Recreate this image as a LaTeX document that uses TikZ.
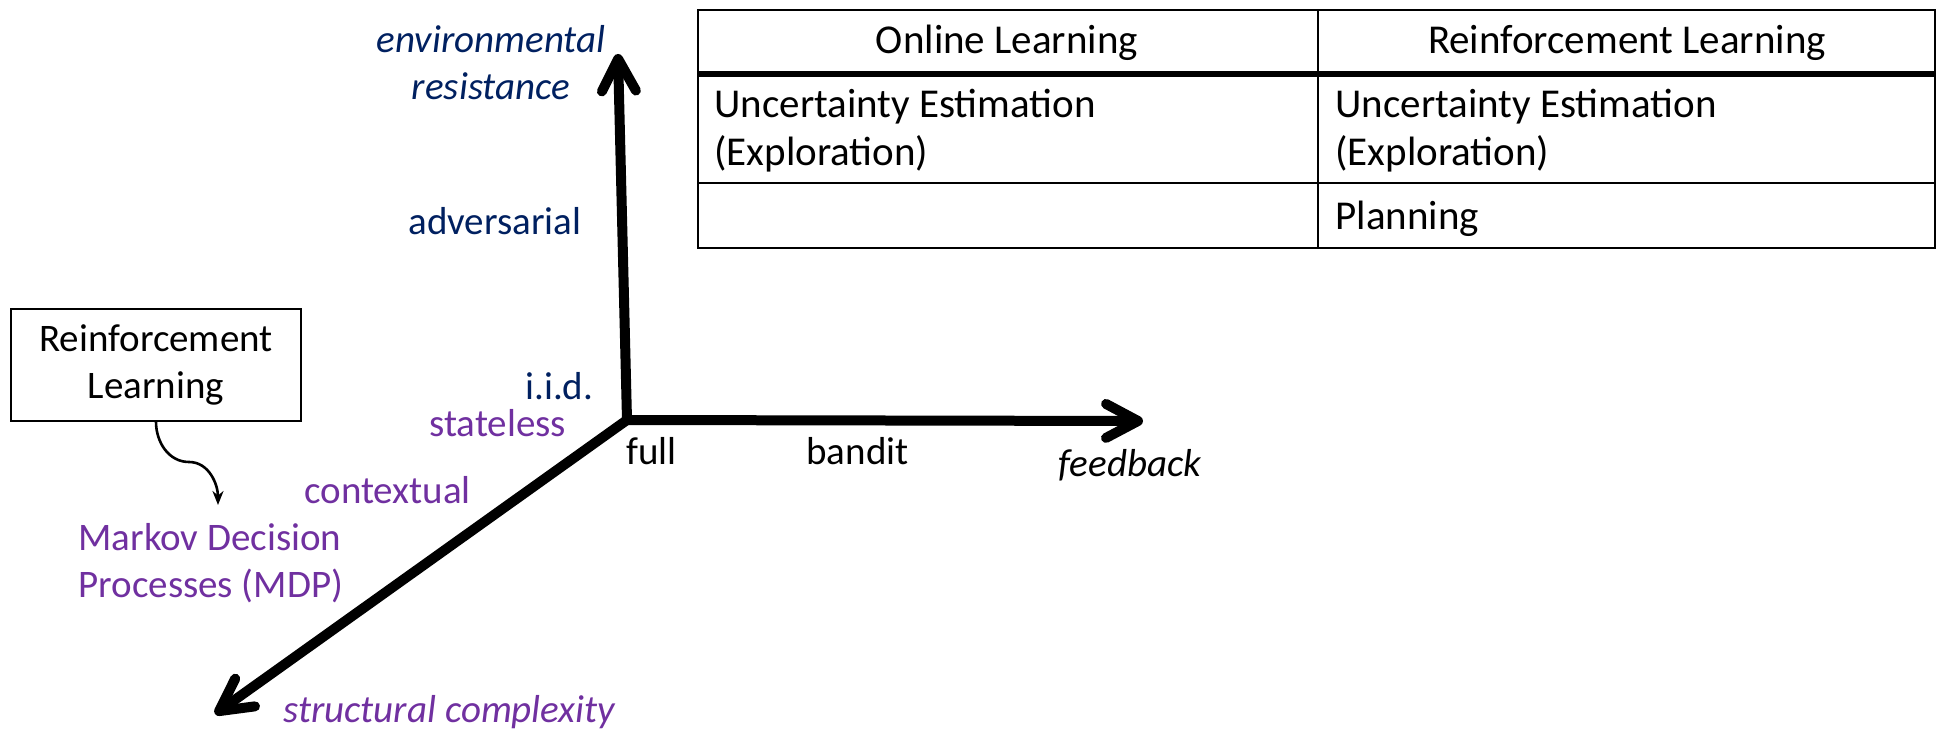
\documentclass[tikz,border=0pt]{standalone}
\usepackage{fontspec}
\setmainfont{Carlito}
\usetikzlibrary{arrows.meta}
\definecolor{navy}{HTML}{002060}
\definecolor{plum}{HTML}{7030A0}

\begin{document}
\begin{tikzpicture}[x=0.5pt,y=-0.5pt,
  lbl/.style={inner sep=0pt, anchor=base west, font=\fontsize{19.5}{23.5}\selectfont},
  tbltext/.style={inner sep=0pt, anchor=base west, font=\fontsize{20.5}{25}\selectfont},
  tblhead/.style={tbltext, anchor=base},
  axis/.style={line width=5pt, line cap=round, line join=round,
    -{Straight Barb[length=16pt,width=17pt,round]}},
  rule/.style={line width=1pt},
]
\useasboundingbox (0,0) rectangle (1938,732);

% ---- comparison table ----
\draw[rule] (698,10) rectangle (1935,248);
\draw[line width=3pt] (698,74) -- (1935,74);
\draw[rule] (698,183) -- (1935,183);
\draw[rule] (1318,10) -- (1318,248);

\node[tblhead] (hOL) at (1007,54) {Online Learning};
\node[tblhead] (hRL) at (1627,54) {Reinforcement Learning};
\node[tbltext] (olA) at (714,118) {Uncertainty Estimation};
\node[tbltext] (olB) at (714,166) {(Exploration)};
\node[tbltext] (rlA) at (1335,118) {Uncertainty Estimation};
\node[tbltext] (rlB) at (1335,166) {(Exploration)};
\node[tbltext] (rlC) at (1335,230) {Planning};

% ---- three axes ----
\coordinate (O) at (627,420);
\coordinate (Ytip) at (618,54);
\coordinate (Xtip) at (1143,421);
\coordinate (Ztip) at (215,714);
\draw[axis] (O) -- (Ytip);
\draw[axis] (O) -- (Xtip);
\draw[axis] (O) -- (Ztip);

% environmental resistance axis (base = baseline of the last line)
\node[lbl, anchor=base, align=center, text=navy, font=\fontsize{19.5}{23.5}\selectfont\itshape]
  (envlab) at (491,100) {environmental\\resistance};
\node[lbl, text=navy] (adv) at (408,235) {adversarial};
\node[lbl, text=navy] (iid) at (525,400) {i.i.d.};

% structural complexity axis
\node[lbl, text=plum] (stl) at (429,437) {stateless};
\node[lbl, text=plum] (ctx) at (304,503) {contextual};
\node[lbl, text=plum, align=left] (mdp) at (78,597) {Markov Decision\\Processes (MDP)};
\node[lbl, text=plum, font=\fontsize{19.5}{23.5}\selectfont\itshape] (strc) at (283,722) {structural complexity};

% feedback axis
\node[lbl] (full) at (626,465) {full};
\node[lbl] (bnd) at (806,465) {bandit};
\node[lbl, font=\fontsize{19.5}{23.5}\selectfont\itshape] (fb) at (1058,477) {feedback};

% RL box and its link to MDPs
\node[draw, line width=0.7pt, minimum width=145pt, minimum height=56pt, inner sep=0pt,
  align=center, font=\fontsize{19.5}{23.5}\selectfont] (rlbox) at (156,365)
  {Reinforcement\\Learning};
\coordinate (linkend) at (218,505);
\draw[line width=1.3pt, -{Stealth[length=7pt,width=5.5pt]}]
  (rlbox.south) to[out=-90,in=180] (189,462) to[out=0,in=90] (linkend);
\end{tikzpicture}
\end{document}
